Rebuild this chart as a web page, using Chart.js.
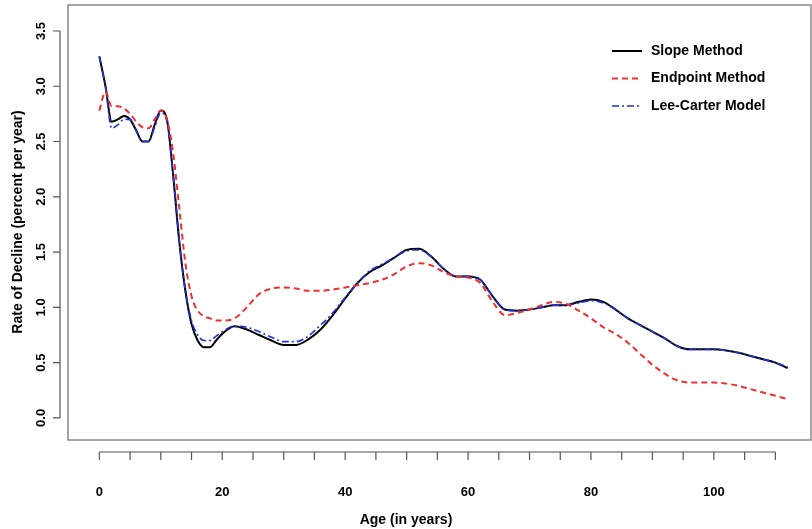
<!DOCTYPE html><html><head><script src="https://cdn.jsdelivr.net/npm/chart.js@4"></script>
<style>body{margin:0;background:#fff}#w{width:812px;height:529px}</style></head><body><div id="w"><canvas id="c"></canvas></div>
<script>
const ages=[0,1,2,3,4,5,6,7,8,9,10,11,12,13,14,15,16,17,18,19,20,22,24,26,28,30,32,34,36,38,40,42,44,46,48,50,52,54,56,58,60,62,64,66,68,70,72,74,76,78,80,82,84,86,88,90,92,94,96,98,100,102,104,106,108,110,112];
const slope=[3.27,3.0,2.68,2.70,2.73,2.70,2.60,2.50,2.50,2.65,2.78,2.70,2.2,1.6,1.15,0.85,0.70,0.64,0.64,0.70,0.76,0.83,0.80,0.75,0.70,0.66,0.66,0.71,0.80,0.93,1.08,1.22,1.32,1.38,1.45,1.52,1.53,1.46,1.35,1.28,1.28,1.25,1.10,0.98,0.97,0.98,1.00,1.02,1.02,1.05,1.07,1.05,0.98,0.90,0.84,0.78,0.72,0.65,0.62,0.62,0.62,0.61,0.59,0.56,0.53,0.50,0.45];
const endpoint=[2.78,2.95,2.82,2.82,2.80,2.75,2.68,2.63,2.62,2.70,2.78,2.70,2.4,1.9,1.4,1.1,0.97,0.92,0.90,0.88,0.88,0.90,1.0,1.12,1.17,1.18,1.17,1.15,1.15,1.16,1.18,1.20,1.22,1.25,1.30,1.37,1.40,1.38,1.32,1.28,1.27,1.22,1.05,0.93,0.95,0.98,1.02,1.05,1.03,0.97,0.90,0.82,0.76,0.68,0.58,0.48,0.40,0.34,0.32,0.32,0.32,0.31,0.29,0.26,0.23,0.20,0.17];
const leeCarter=[3.27,3.0,2.62,2.65,2.70,2.70,2.60,2.50,2.50,2.63,2.76,2.68,2.2,1.6,1.15,0.88,0.75,0.70,0.70,0.74,0.78,0.83,0.82,0.78,0.73,0.69,0.69,0.74,0.84,0.95,1.09,1.22,1.33,1.39,1.45,1.51,1.52,1.46,1.35,1.28,1.28,1.25,1.10,0.98,0.97,0.98,1.00,1.02,1.02,1.04,1.06,1.04,0.98,0.90,0.84,0.78,0.72,0.65,0.62,0.62,0.62,0.61,0.59,0.56,0.53,0.50,0.46];
const seriesNames=['Slope Method','Endpoint Method','Lee-Carter Model'];
const yTicks=[0,0.5,1,1.5,2,2.5,3,3.5];
const xTicks=[0,20,40,60,80,100];
const pts=a=>ages.map((x,i)=>({x,y:a[i]}));
const styles=[{c:'#000',d:[],w:2},{c:'#f03030',d:[6,4],w:2},{c:'#2030e0',d:[7,3,2,3],w:1.6}];
const deco={id:'deco',afterDraw(ch){const g=ch.ctx,a=ch.chartArea,xs=ch.scales.x,ys=ch.scales.y;g.save();
g.strokeStyle='#888';g.lineWidth=1.5;g.strokeRect(a.left,a.top,a.right-a.left,a.bottom-a.top);
g.strokeStyle='#555';g.lineWidth=1.2;g.fillStyle='#000';g.font='bold 13px Arial, Liberation Sans';
const yx=452;g.beginPath();g.moveTo(xs.getPixelForValue(0),yx);g.lineTo(xs.getPixelForValue(110),yx);
for(let v=0;v<=110;v+=5){const p=xs.getPixelForValue(v);g.moveTo(p,yx);g.lineTo(p,yx+8);}g.stroke();
g.textAlign='center';g.textBaseline='middle';xTicks.forEach(v=>g.fillText(String(v),xs.getPixelForValue(v),492));
const xy=60;g.beginPath();g.moveTo(xy,ys.getPixelForValue(0));g.lineTo(xy,ys.getPixelForValue(3.5));
yTicks.forEach(v=>{const p=ys.getPixelForValue(v);g.moveTo(xy,p);g.lineTo(xy-7,p);});g.stroke();
yTicks.forEach(v=>{const p=ys.getPixelForValue(v);g.save();g.translate(41,p);g.rotate(-Math.PI/2);g.fillText(v.toFixed(1),0,0);g.restore();});
g.font='bold 14px Arial, Liberation Sans';g.fillText('Age (in years)',406,520);
g.save();g.translate(18,222);g.rotate(-Math.PI/2);g.fillText('Rate of Decline (percent per year)',0,0);g.restore();
g.textAlign='left';seriesNames.forEach((n,i)=>{const y=51+i*27.5,s=styles[i];g.strokeStyle=s.c;g.lineWidth=s.w;g.setLineDash(s.d);g.beginPath();g.moveTo(612,y);g.lineTo(642,y);g.stroke();g.setLineDash([]);g.fillStyle='#000';g.fillText(n,651,y);});
g.restore();}};
new Chart(document.getElementById('c'),{type:'line',data:{datasets:[
{label:seriesNames[1],data:pts(endpoint),borderColor:styles[1].c,borderDash:styles[1].d,borderWidth:styles[1].w},
{label:seriesNames[2],data:pts(leeCarter),borderColor:styles[2].c,borderDash:styles[2].d,borderWidth:styles[2].w},
{label:seriesNames[0],data:pts(slope),borderColor:styles[0].c,borderWidth:styles[0].w}]},
options:{animation:false,responsive:true,maintainAspectRatio:false,layout:{padding:{left:68,right:1,top:5,bottom:89}},
elements:{point:{radius:0},line:{tension:0.4,cubicInterpolationMode:'monotone'}},
plugins:{legend:{display:false},tooltip:{enabled:false}},
scales:{x:{type:'linear',display:false,min:-5.1,max:115.8},y:{display:false,min:-0.2,max:3.735}}},plugins:[deco]});
</script></body></html>
